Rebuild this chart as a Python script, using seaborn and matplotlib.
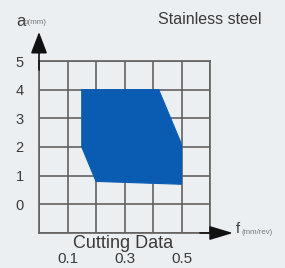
import matplotlib
matplotlib.use("Agg")
import matplotlib.pyplot as plt
import seaborn as sns
import pandas as pd

# Data
region_f = [0.15, 0.42, 0.50, 0.50, 0.20, 0.15]   # feed f (mm/rev)
region_ap = [4.0, 4.0, 2.1, 0.7, 0.8, 2.0]        # depth of cut ap (mm)
x_ticks = [0.0, 0.1, 0.2, 0.3, 0.4, 0.5, 0.6]
x_labels = ["", "0.1", "", "0.3", "", "0.5", ""]
y_ticks = [-1, 0, 1, 2, 3, 4, 5]
y_labels = ["", "0", "1", "2", "3", "4", "5"]
title = "Stainless steel"
xlabel_main, xlabel_sub = "f", "(mm/rev)"
ylabel_main, ylabel_sub = "a", "p(mm)"
caption = "Cutting Data"

sns.set_theme(style="white")
plt.rcParams["font.family"] = ["Liberation Sans", "DejaVu Sans"]

BG = "#eceff2"
GRID = "#626262"
TXT = "#3a3a3a"
BLUE = "#0a5cb2"

W, H = 285, 268
fig = plt.figure(figsize=(W / 100, H / 100), dpi=100, facecolor=BG)
L, R, T, B = 39, 210, 61, 233
ax = fig.add_axes([L / W, (H - B) / H, (R - L) / W, (B - T) / H])
ax.set_facecolor(BG)

df = pd.DataFrame({"f": region_f + region_f[:1], "ap": region_ap + region_ap[:1]})
ax.fill(df["f"], df["ap"], color=BLUE, lw=0, zorder=1)
sns.lineplot(data=df, x="f", y="ap", sort=False, estimator=None, color=BLUE, lw=0.8, ax=ax, zorder=2)

ax.set_xlim(x_ticks[0], x_ticks[-1])
ax.set_ylim(y_ticks[0], y_ticks[-1])
ax.set_xticks(x_ticks)
ax.set_xticklabels(x_labels)
ax.set_yticks(y_ticks)
ax.set_yticklabels(y_labels)
ax.grid(True, color=GRID, lw=1.2, zorder=0)
ax.set_axisbelow(True)
ax.set_xlabel("")
ax.set_ylabel("")
ax.tick_params(axis="x", length=0, pad=14, labelsize=11, labelcolor=TXT)
ax.tick_params(axis="y", length=0, pad=11, labelsize=10.5, labelcolor=TXT)
for s in ax.spines.values():
    s.set_color(GRID)
    s.set_linewidth(1.2)

# axis arrows
def axf(px, py):
    return ((px - L) / (R - L), (B - py) / (B - T))

ax.annotate("", xy=axf(L, 32), xytext=axf(L, 70), xycoords="axes fraction",
            arrowprops=dict(arrowstyle="-|>,head_length=1.1,head_width=0.42",
                            color="#111111", lw=1.2, shrinkA=0, shrinkB=0),
            annotation_clip=False)
ax.annotate("", xy=axf(233, B), xytext=axf(200, B), xycoords="axes fraction",
            arrowprops=dict(arrowstyle="-|>,head_length=1.2,head_width=0.36",
                            color="#111111", lw=1.2, shrinkA=0, shrinkB=0),
            annotation_clip=False)

def ft(px, py, s, **kw):
    fig.text(px / W, 1 - py / H, s, **kw)

ft(158, 20, title, fontsize=11.5, color=TXT, va="center", ha="left")
ft(16, 21, ylabel_main, fontsize=12, color=TXT, va="center", ha="left")
ft(24, 23, ylabel_sub, fontsize=5.8, color="#777777", va="center", ha="left")
ft(236, 229, xlabel_main, fontsize=10.5, color=TXT, va="center", ha="left")
ft(242, 232, xlabel_sub, fontsize=5.6, color="#777777", va="center", ha="left")
ft(123, 243, caption, fontsize=13, color=TXT, va="center", ha="center")

fig.savefig("out.png", dpi=100, facecolor=BG)
